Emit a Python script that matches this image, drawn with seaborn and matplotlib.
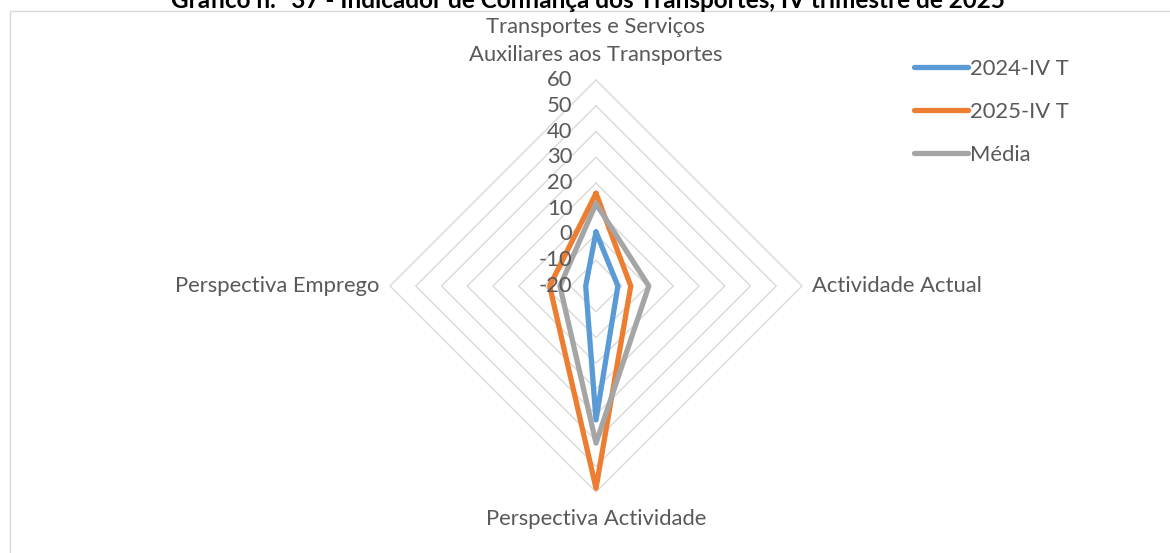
import numpy as np
import pandas as pd
import matplotlib
matplotlib.use("Agg")
import matplotlib.pyplot as plt
import seaborn as sns
from matplotlib.lines import Line2D

# --- data -------------------------------------------------------------
categories = [
    "Transportes e Serviços\nAuxiliares aos Transportes",
    "Actividade Actual",
    "Perspectiva Actividade",
    "Perspectiva Emprego",
]
series_names = ["2024-IV T", "2025-IV T", "Média"]
values_2024 = [1, -11.5, 32, -16]
values_2025 = [16, -6.5, 58.5, -2]
values_media = [12, 0.5, 41, -6]
ring_levels = [-20, -10, 0, 10, 20, 30, 40, 50, 60]
title = "Gráfico n.º 37 - Indicador de Confiança dos Transportes, IV trimestre de 2025"

colors = {"2024-IV T": "#5B9BD5", "2025-IV T": "#ED7D31", "Média": "#A5A5A5"}
grid_color = "#D9D9D9"
text_color = "#595959"

sns.set_theme(style="white")
plt.rcParams["font.family"] = ["Lato", "DejaVu Sans"]

W, H, DPI = 1170, 553, 100
fig = plt.figure(figsize=(W / DPI, H / DPI), dpi=DPI)
fig.patch.set_facecolor("white")

# polar axes: centre and radius in pixels
cx, cy, rad = 596, 286, 206
ax = fig.add_axes([(cx - rad) / W, (H - cy - rad) / H, 2 * rad / W, 2 * rad / H],
                  projection="polar")
ax.set_theta_zero_location("N")
ax.set_theta_direction(-1)
ax.set_ylim(ring_levels[0], ring_levels[-1])
ax.grid(False)
ax.set_xticks([])
ax.set_yticks([])
ax.spines["polar"].set_visible(False)
ax.patch.set_alpha(0)

n = len(categories)
theta = [2 * np.pi * i / n for i in range(n)]
theta_closed = theta + [2 * np.pi]

# diamond-shaped gridlines
for lvl in ring_levels[1:]:
    ax.plot(theta_closed, [lvl] * (n + 1), color=grid_color, lw=1.0, zorder=0, clip_on=False)

# long-form table for the series (polygon closed on the first category)
rows = []
for name, vals in zip(series_names, [values_2024, values_2025, values_media]):
    closed = list(vals) + [vals[0]]
    for k, (t, v) in enumerate(zip(theta_closed, closed)):
        rows.append({"series": name, "theta": t, "value": v, "step": k})
df = pd.DataFrame(rows)

sns.lineplot(data=df, x="theta", y="value", hue="series", hue_order=series_names,
             palette=colors, sort=False, estimator=None, units="series",
             linewidth=3.8, legend=False, ax=ax, clip_on=False,
             solid_joinstyle="round", solid_capstyle="round", zorder=3)
ax.set_xlabel("")
ax.set_ylabel("")

# value labels along the top spoke
fs = 15.8
for lvl in ring_levels:
    ax.annotate(str(lvl), xy=(0, lvl), xytext=(-17, 0), textcoords="offset points",
                ha="right", va="center", fontsize=fs, color=text_color, annotation_clip=False)

# category labels
ax.annotate(categories[0], xy=(0, 60), xytext=(0, 10.5), textcoords="offset points",
            ha="center", va="bottom", fontsize=fs, color=text_color, linespacing=1.5,
            annotation_clip=False)
ax.annotate(categories[1], xy=(theta[1], 60), xytext=(7, 0), textcoords="offset points",
            ha="left", va="center", fontsize=fs, color=text_color, annotation_clip=False)
ax.annotate(categories[2], xy=(theta[2], 60), xytext=(0, -12.5), textcoords="offset points",
            ha="center", va="top", fontsize=fs, color=text_color, annotation_clip=False)
ax.annotate(categories[3], xy=(theta[3], 60), xytext=(-8, 0), textcoords="offset points",
            ha="right", va="center", fontsize=fs, color=text_color, annotation_clip=False)

# legend
handles = [Line2D([0], [0], color=colors[s], lw=3.8, solid_capstyle="round") for s in series_names]
fig.legend(handles, series_names, loc="upper left",
           bbox_to_anchor=(914 / W, 1 - 59 / H), frameon=False, fontsize=fs,
           labelcolor=text_color, handlelength=2.45, handletextpad=0.12,
           labelspacing=1.05, borderpad=0, borderaxespad=0)

# chart frame and clipped title
fig.add_artist(Line2D([10 / W, 1.0], [1 - 11 / H, 1 - 11 / H], color=grid_color, lw=1.0))
fig.add_artist(Line2D([10 / W, 10 / W], [0, 1 - 11 / H], color=grid_color, lw=1.0))
fig.text(588 / W, 1 - 8 / H, title, ha="center", va="baseline", fontsize=17.5,
         fontweight="bold", color="black")

fig.savefig("out.png", dpi=DPI, facecolor="white")
